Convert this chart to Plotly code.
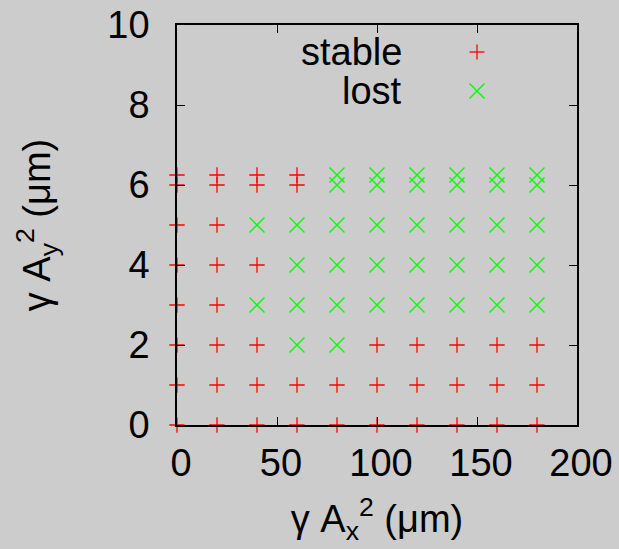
import plotly.graph_objects as go

# ---- data ----
stable_x = [0, 20, 40, 60, 80, 100, 120, 140, 160, 180,
            0, 20, 40, 60, 80, 100, 120, 140, 160, 180,
            0, 20, 40, 100, 120, 140, 160, 180,
            0, 20,
            0, 20, 40,
            0, 20,
            0, 20, 40, 60,
            0, 20, 40, 60]
stable_y = [0] * 10 + [1] * 10 + [2] * 8 + [3] * 2 + [4] * 3 + [5] * 2 + [6] * 4 + [6.25] * 4

lost_x = [60, 80,
          40, 60, 80, 100, 120, 140, 160, 180,
          60, 80, 100, 120, 140, 160, 180,
          40, 60, 80, 100, 120, 140, 160, 180,
          80, 100, 120, 140, 160, 180,
          80, 100, 120, 140, 160, 180]
lost_y = [2] * 2 + [3] * 8 + [4] * 7 + [5] * 8 + [6] * 6 + [6.25] * 6

x_ticks = [0, 50, 100, 150, 200]
y_ticks = [0, 2, 4, 6, 8, 10]
legend_labels = ["stable", "lost"]

BG = "#cccccc"
FONT = "Liberation Sans, Arial, sans-serif"
FS = 38

fig = go.Figure()
fig.add_trace(go.Scatter(
    x=stable_x, y=stable_y, mode="markers", name="stable", cliponaxis=False,
    marker=dict(symbol="cross-thin", size=11, color="#ff0000",
                line=dict(color="#ff0000", width=1.3)),
    showlegend=False))
fig.add_trace(go.Scatter(
    x=lost_x, y=lost_y, mode="markers", name="lost", cliponaxis=False,
    marker=dict(symbol="x-thin", size=15, color="#00ff00",
                line=dict(color="#00ff00", width=1.4)),
    showlegend=False))

# gnuplot-style key: text then sample on the right
L, R, T, B = 177, 42, 25, 124
W, H = 619, 549
pw, ph = W - L - R, H - T - B

def px(xp):
    return (xp - L) / pw

def py(yp):
    return (H - B - yp) / ph

shapes = []
cx, cy = 477, 52
shapes.append(dict(type="line", xref="paper", yref="paper", x0=px(cx - 7.5), x1=px(cx + 7.5),
                   y0=py(cy), y1=py(cy), line=dict(color="#ff0000", width=1.3)))
shapes.append(dict(type="line", xref="paper", yref="paper", x0=px(cx), x1=px(cx),
                   y0=py(cy - 7.5), y1=py(cy + 7.5), line=dict(color="#ff0000", width=1.3)))
cx, cy = 477, 91
shapes.append(dict(type="line", xref="paper", yref="paper", x0=px(cx - 7.5), x1=px(cx + 7.5),
                   y0=py(cy - 7.5), y1=py(cy + 7.5), line=dict(color="#00ff00", width=1.4)))
shapes.append(dict(type="line", xref="paper", yref="paper", x0=px(cx - 7.5), x1=px(cx + 7.5),
                   y0=py(cy + 7.5), y1=py(cy - 7.5), line=dict(color="#00ff00", width=1.4)))

annotations = [
    dict(text=legend_labels[0], xref="paper", yref="paper", x=px(404), y=py(52),
         xanchor="right", yanchor="middle", showarrow=False,
         font=dict(family=FONT, size=FS, color="black")),
    dict(text=legend_labels[1], xref="paper", yref="paper", x=px(404), y=py(91),
         xanchor="right", yanchor="middle", showarrow=False,
         font=dict(family=FONT, size=FS, color="black")),
]

axis_common = dict(showline=True, linecolor="black", linewidth=1.5, mirror="ticks",
                   ticks="inside", ticklen=8, tickwidth=1, tickcolor="black",
                   showgrid=False, zeroline=False, automargin=False,
                   tickfont=dict(family=FONT, size=FS, color="black"))

fig.update_xaxes(range=[0, 200], tickvals=x_ticks, ticktext=[str(v) for v in x_ticks],
                 title=dict(text="γ A<sub>x</sub><sup>2</sup> (μm)",
                            font=dict(family=FONT, size=FS, color="black"), standoff=22),
                 ticklabelstandoff=4, ticklabelshift=4,
                 **axis_common)
fig.update_yaxes(range=[0, 10], tickvals=y_ticks, ticktext=[str(v) for v in y_ticks],
                 title=dict(text="γ A<sub>y</sub><sup>2</sup> (μm)",
                            font=dict(family=FONT, size=FS, color="black"), standoff=45),
                 ticklabelstandoff=18,
                 **axis_common)

fig.update_layout(
    width=W, height=H, autosize=False,
    margin=dict(l=L, r=R, t=T, b=B, pad=0, autoexpand=False),
    paper_bgcolor=BG, plot_bgcolor=BG,
    shapes=shapes, annotations=annotations,
    showlegend=False,
)

fig.write_html("out.html", include_plotlyjs=True, config={"displayModeBar": False})
